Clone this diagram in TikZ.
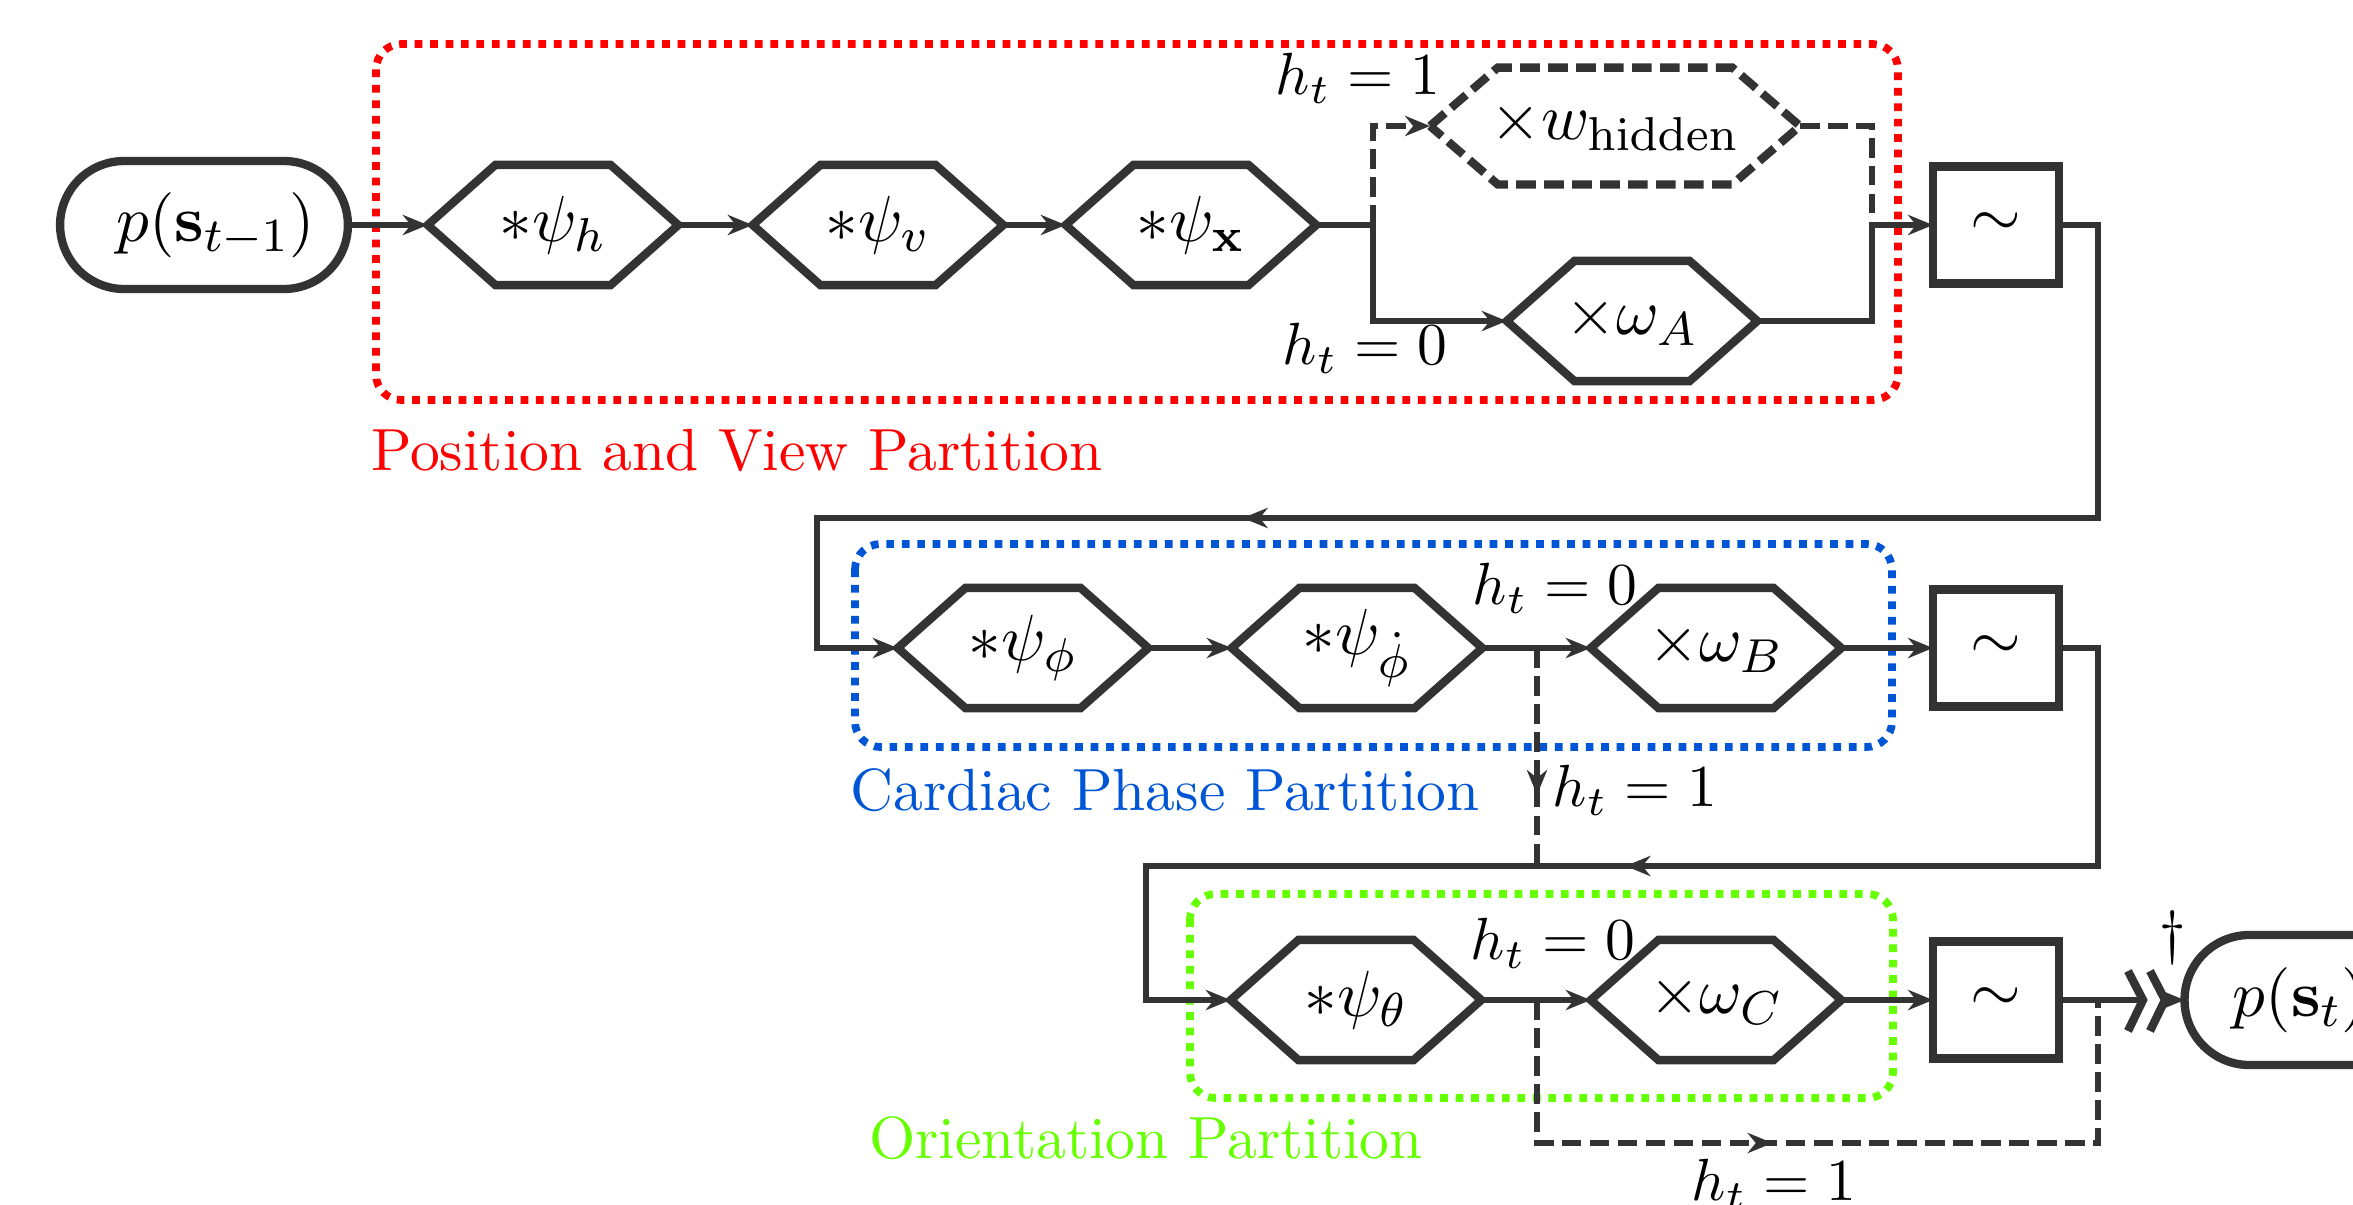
\documentclass[tikz,border=0pt]{standalone}
\usetikzlibrary{arrows.meta,shapes.misc,decorations.markings}
\definecolor{linegray}{HTML}{333333}
\definecolor{partred}{HTML}{FF0000}
\definecolor{partblue}{HTML}{0055D4}
\definecolor{partgreen}{HTML}{66FF00}
\begin{document}
\begin{tikzpicture}[x=0.5906cm,y=0.5906cm,
  >={Stealth[length=4.2pt,width=3.4pt]},
  conn/.style={draw=linegray,line width=1.1pt},
  hidline/.style={dash pattern=on 3.3pt off 1.4pt},
  hexnode/.style={rectangle,inner sep=0pt,outer sep=0pt,minimum width=1.48cm,minimum height=0.71cm,font=\fontsize{11}{13}\selectfont},
  hexline/.style={draw=linegray,line width=1.4pt},
  sampbox/.style={rectangle,draw=linegray,line width=1.4pt,inner sep=0pt,outer sep=0pt,minimum width=0.744cm,minimum height=0.69cm,font=\fontsize{11}{13}\selectfont},
  distnode/.style={rounded rectangle,draw=linegray,line width=1.4pt,inner sep=0pt,outer sep=0pt,font=\fontsize{11}{13}\selectfont},
  partbox/.style={line width=1.3pt,dash pattern=on 1.3pt off 1.3pt,rounded corners=0.15cm},
  midarrow/.style={postaction={decorate},decoration={markings,mark=at position #1 with {\arrow{Stealth[length=4.2pt,width=3.4pt]}}}}
]
\useasboundingbox (0,0) rectangle (23.53,-12.04);

\draw[partbox,draw=partred] (3.76,-0.44) rectangle (18.98,-4.00);
\draw[partbox,draw=partblue] (8.55,-5.44) rectangle (18.92,-7.47);
\draw[partbox,draw=partgreen] (11.90,-8.94) rectangle (18.93,-10.98);

\node[distnode,minimum width=1.70cm,minimum height=0.756cm] (prev) at (2.04,-2.25) {\hspace{0.14cm}$p(\mathbf{s}_{t-1})$};
\node[hexnode] (psih) at (5.53,-2.25) {$*\psi_h$};
\node[hexnode] (psiv) at (8.78,-2.25) {$*\psi_v$};
\node[hexnode] (psix) at (11.91,-2.25) {$*\psi_{\mathbf{x}}$};
\node[hexnode,minimum width=2.185cm,minimum height=0.69cm] (hidden) at (16.15,-1.26) {$\times w_{\mathrm{hidden}}$};
\node[hexnode] (omA) at (16.32,-3.21) {$\times\omega_A$};
\node[sampbox] (smpA) at (19.96,-2.25) {$\sim$};

\node[hexnode] (psiphi) at (10.23,-6.48) {$*\psi_\phi$};
\node[hexnode] (psiphid) at (13.57,-6.48) {$*\psi_{\dot{\phi}}$};
\node[hexnode] (omB) at (17.16,-6.48) {$\times\omega_B$};
\node[sampbox] (smpB) at (19.96,-6.48) {$\sim$};

\node[hexnode] (psith) at (13.56,-10.0) {$*\psi_\theta$};
\node[hexnode] (omC) at (17.16,-10.0) {$\times\omega_C$};
\node[sampbox] (smpC) at (19.96,-10.0) {$\sim$};
\node[distnode,minimum width=1.364cm,minimum height=0.768cm] (next) at (23.0,-10.0) {$p(\mathbf{s}_t)$};

\foreach \n in {psih,psiv,psix,omA,psiphi,psiphid,omB,psith,omC}
  \draw[hexline] (\n.west) -- ([xshift=0.4cm]\n.north west) -- ([xshift=-0.4cm]\n.north east) -- (\n.east) -- ([xshift=-0.4cm]\n.south east) -- ([xshift=0.4cm]\n.south west) -- cycle;
\draw[hexline,hidline] (hidden.west) -- ([xshift=0.4cm]hidden.north west) -- ([xshift=-0.4cm]hidden.north east) -- (hidden.east) -- ([xshift=-0.4cm]hidden.south east) -- ([xshift=0.4cm]hidden.south west) -- cycle;

\coordinate (splitA) at (13.73,-2.25);
\coordinate (mergeA) at (18.72,-2.25);
\coordinate (rx) at (20.98,0);
\coordinate (loopA) at (8.17,-5.18);
\coordinate (splitB) at (15.37,-6.48);
\coordinate (loopB) at (11.46,-8.66);
\coordinate (splitC) at (15.37,-10.0);
\coordinate (skipC) at (15.37,-11.43);
\coordinate (brkA) at (21.43,-10.0);
\coordinate (brkB) at (21.65,-10.0);

\draw[conn,->] (prev.east) -- (psih.west);
\draw[conn,->] (psih.east) -- (psiv.west);
\draw[conn,->] (psiv.east) -- (psix.west);
\draw[conn] (psix.east) -- (splitA);
\draw[conn,hidline,->] (splitA) |- (hidden.west);
\draw[conn,->] (splitA) |- (omA.west);
\draw[conn,hidline] (hidden.east) -| (mergeA);
\draw[conn] (omA.east) -| (mergeA);
\draw[conn,->] (mergeA) -- (smpA.west);
\draw[conn,->,midarrow=0.651] (smpA.east) -- (smpA.east -| rx) |- (loopA) |- (psiphi.west);

\draw[conn,->] (psiphi.east) -- (psiphid.west);
\draw[conn,->] (psiphid.east) -- (omB.west);
\draw[conn,->] (omB.east) -- (smpB.west);
\draw[conn,hidline,midarrow=0.674] (splitB) -- (splitB |- loopB);
\draw[conn,->,midarrow=0.511] (smpB.east) -- (smpB.east -| rx) |- (loopB) |- (psith.west);

\draw[conn,->] (psith.east) -- (omC.west);
\draw[conn,->] (omC.east) -- (smpC.west);
\draw[conn,hidline,midarrow=0.447] (splitC) -- (skipC) -| (smpC.east -| rx);
\draw[conn] (smpC.east) -- (brkA);
\draw[conn,->] (brkB) -- (next.west);
\draw[hexline] ([shift={(-0.15,0.29)}]brkA) -- (brkA) -- ([shift={(-0.15,-0.31)}]brkA);
\draw[hexline] ([shift={(-0.15,0.29)}]brkB) -- (brkB) -- ([shift={(-0.15,-0.31)}]brkB);

\node (lblhA1) at (13.58,-0.78) {$h_t = 1$};
\node (lblhA0) at (13.65,-3.48) {$h_t = 0$};
\node[text=partred] (lblpos) at (7.37,-4.50) {Position and View Partition};
\node (lblhB0) at (15.55,-5.88) {$h_t = 0$};
\node (lblhB1) at (16.35,-7.90) {$h_t = 1$};
\node[text=partblue] (lblcard) at (11.65,-7.90) {Cardiac Phase Partition};
\node (lblhC0) at (15.53,-9.43) {$h_t = 0$};
\node (lblhC1) at (17.74,-11.84) {$h_t = 1$};
\node[text=partgreen] (lblori) at (11.46,-11.38) {Orientation Partition};
\node (dag) at (21.73,-9.38) {$\dagger$};
\end{tikzpicture}
\end{document}
